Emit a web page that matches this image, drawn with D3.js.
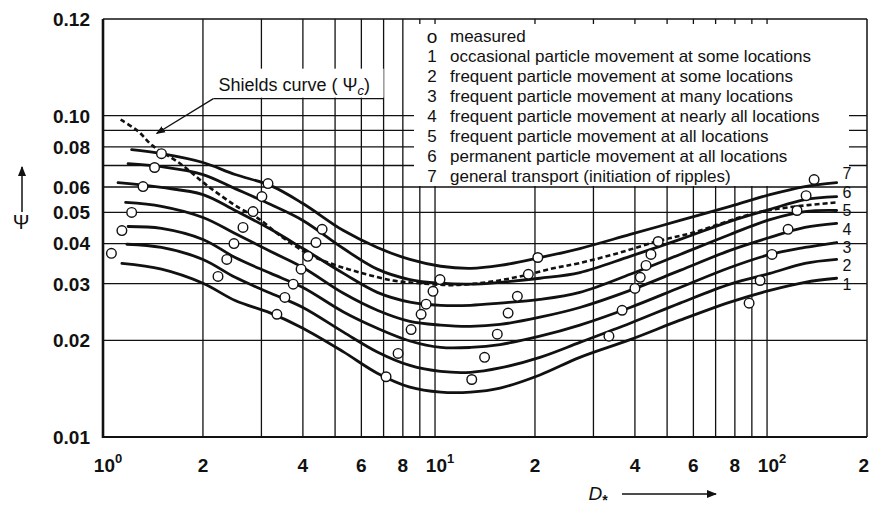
<!DOCTYPE html>
<html><head><meta charset="utf-8">
<script src="https://cdn.jsdelivr.net/npm/d3@7"></script>
<style>body{margin:0;background:#fff}svg{display:block}</style>
</head><body>
<svg id="c" width="870" height="507"></svg>
<script>
// ---------- DATA ----------
const xDomain = [1, 200];
const yDomain = [0.01, 0.2];
const xGrid = [2,3,4,5,6,7,8,9,10,20,30,40,50,60,70,80,90,100];
const yGrid = [0.02,0.03,0.04,0.05,0.06,0.07,0.08,0.09,0.10];
const xTickValues = [1,2,4,6,8,10,20,40,60,80,100,200];
const xTickLabels = ["10^0","2","4","6","8","10^1","2","4","6","8","10^2","2"];
const yTickValues = [0.01,0.02,0.03,0.04,0.05,0.06,0.08,0.10,0.2];
const yTickLabels = ["0.01","0.02","0.03","0.04","0.05","0.06","0.08","0.10","0.12"];

const curve7 = [[1.22,0.0784],[1.5,0.0762],[2,0.0715],[2.5,0.0656],[3.2,0.0606],[4,0.0533],[5.3,0.0439],[6.7,0.0389],[8.4,0.0357],[10.4,0.0340],[12.8,0.0335],[15.7,0.0342],[20.7,0.0362],[27.3,0.0386],[38.7,0.0427],[54.7,0.0472],[77.4,0.0522],[102,0.0568],[130,0.0602],[162,0.0619]];
const curve6 = [[1.19,0.0709],[1.5,0.0694],[2,0.0656],[2.5,0.0593],[3.2,0.0529],[4,0.0472],[5.3,0.0386],[6.7,0.0333],[8.4,0.0309],[10.4,0.0301],[12.8,0.0299],[15.7,0.0303],[20.7,0.0312],[27.3,0.0325],[38.7,0.0365],[54.7,0.0412],[77.4,0.0469],[102,0.0511],[130,0.0548],[162,0.0560]];
const curve5 = [[1.11,0.0619],[1.5,0.0598],[2,0.0568],[2.5,0.0507],[3.2,0.0443],[4,0.0386],[5.3,0.0323],[6.7,0.0282],[8.4,0.0263],[10.4,0.0257],[12.8,0.0257],[15.7,0.0261],[20.7,0.0268],[27.3,0.0282],[38.7,0.0321],[54.7,0.0370],[77.4,0.0427],[102,0.0475],[130,0.0503],[162,0.0507]];
const curve4 = [[1.17,0.0537],[1.5,0.0522],[2,0.0482],[2.5,0.0430],[3.2,0.0378],[4,0.0337],[5.3,0.0280],[6.7,0.0248],[8.4,0.0229],[10.4,0.0223],[12.8,0.0221],[15.7,0.0224],[20.7,0.0236],[27.3,0.0253],[38.7,0.0286],[54.7,0.0330],[77.4,0.0381],[102,0.0418],[130,0.0449],[162,0.0462]];
const curve3 = [[1.19,0.0452],[1.5,0.0446],[2,0.0412],[2.5,0.0362],[3.2,0.0323],[4,0.0292],[5.3,0.0245],[6.7,0.0218],[8.4,0.0199],[10.4,0.0190],[12.8,0.0190],[15.7,0.0194],[20.7,0.0206],[27.3,0.0223],[38.7,0.0253],[54.7,0.0292],[77.4,0.0337],[102,0.0370],[130,0.0389],[162,0.0403]];
const curve2 = [[1.18,0.0398],[1.5,0.0389],[2,0.0357],[2.5,0.0314],[3.2,0.0280],[4,0.0253],[5.3,0.0212],[6.7,0.0184],[8.4,0.0167],[10.4,0.0160],[12.8,0.0159],[15.7,0.0164],[20.7,0.0177],[27.3,0.0197],[38.7,0.0226],[54.7,0.0261],[77.4,0.0299],[102,0.0323],[130,0.0347],[162,0.0357]];
const curve1 = [[1.14,0.0347],[1.5,0.0333],[2,0.0301],[2.5,0.0266],[3.2,0.0243],[4,0.0218],[5.3,0.0184],[6.7,0.0158],[8.4,0.0143],[10.4,0.0138],[12.8,0.0138],[15.7,0.0142],[20.7,0.0156],[27.3,0.0177],[38.7,0.0201],[54.7,0.0231],[77.4,0.0263],[102,0.0286],[130,0.0303],[162,0.0312]];
const shieldsCurve = [[1.13,0.0972],[1.27,0.0898],[1.41,0.0807],[1.71,0.0709],[2.06,0.0606],[2.59,0.0514],[2.91,0.0482],[3.41,0.0424],[4.12,0.0373],[4.73,0.0350],[5.94,0.0325],[7.47,0.0307],[9.01,0.0301],[11.3,0.0297],[14.3,0.0303],[18.0,0.0316],[22.7,0.0335],[27.3,0.0348],[36.1,0.0375],[47.6,0.0409],[58.6,0.0430],[90.7,0.0496],[115,0.0518],[162,0.0537]];
const measured = [
 [1.06,0.0373],[1.14,0.0439],[1.22,0.0500],[1.32,0.0602],[1.43,0.0690],[1.5,0.0762],
 [2.22,0.0316],[2.36,0.0357],[2.48,0.0400],[2.64,0.0449],[2.83,0.0503],[3.01,0.0560],[3.14,0.0615],
 [3.34,0.0241],[3.53,0.0272],[3.74,0.0299],[3.95,0.0333],[4.14,0.0365],[4.38,0.0403],[4.57,0.0443],
 [7.12,0.0154],[7.74,0.0182],[8.47,0.0216],[9.08,0.0241],[9.40,0.0259],[9.86,0.0284],[10.35,0.0309],
 [12.9,0.0151],[14.1,0.0177],[15.4,0.0209],[16.6,0.0243],[17.7,0.0274],[19.1,0.0321],[20.4,0.0362],
 [33.4,0.0206],[36.6,0.0248],[40.0,0.0290],[41.5,0.0314],[43.2,0.0342],[44.7,0.0370],[47.0,0.0406],
 [88.3,0.0261],[95.3,0.0307],[103.5,0.0370],[115.7,0.0443],[123.1,0.0507],[131.1,0.0564],[138.6,0.0633]
];
const curveNames = ["1","2","3","4","5","6","7"];
const legendSymbols = ["o","1","2","3","4","5","6","7"];
const legendTexts = ["measured",
 "occasional particle movement at some locations",
 "frequent particle movement at some locations",
 "frequent particle movement at many locations",
 "frequent particle movement at nearly all locations",
 "frequent particle movement at all locations",
 "permanent particle movement at all locations",
 "general transport (initiation of ripples)"];
const calloutTip = [1.45, 0.088];
const calloutAnchor = [2.15, 0.113];
const calloutEnd = [7.0, 0.113];

// ---------- DRAW ----------
const svg = d3.select('#c');
const font = "'Liberation Sans', Arial, sans-serif";
const ink = '#111';
const x = d3.scaleLog().domain(xDomain).range([103, 867]);
const y = d3.scaleLog().domain(yDomain).range([437, 19]);

svg.append('defs').append('marker').attr('id','ah').attr('viewBox','0 0 10 10')
  .attr('refX',9).attr('refY',5).attr('markerWidth',7).attr('markerHeight',7)
  .attr('orient','auto-start-reverse').append('path').attr('d','M0,1 L10,5 L0,9 z').attr('fill',ink);

// grid
const grid = svg.append('g').attr('stroke', ink).attr('stroke-width', 1.3);
grid.selectAll('.gx').data(xGrid).join('line')
  .attr('x1', d=>x(d)).attr('x2', d=>x(d)).attr('y1', y(yDomain[0])).attr('y2', y(yDomain[1]));
grid.selectAll('.gy').data(yGrid).join('line')
  .attr('y1', d=>y(d)).attr('y2', d=>y(d)).attr('x1', x(xDomain[0])).attr('x2', x(xDomain[1]));

// callout box
const ax = x(calloutAnchor[0]), ay = y(calloutAnchor[1]), ex = x(calloutEnd[0]);
svg.append('rect').attr('x', ax).attr('y', ay-30).attr('width', ex-ax).attr('height', 29).attr('fill','#fff');

// legend box
svg.append('rect').attr('x',414).attr('y',24).attr('width',435).attr('height',162).attr('fill','#fff');
const lg = svg.append('g').attr('font-family', font).attr('font-size', 17).attr('fill', ink);
legendTexts.forEach((t,i)=>{
  const yy = 36 + i*20;
  lg.append('text').attr('x',432).attr('y',yy).attr('dy','0.35em').attr('text-anchor','middle')
    .attr('font-size', i===0?19:17).text(legendSymbols[i]);
  lg.append('text').attr('x',450).attr('y',yy).attr('dy','0.35em').text(t);
});

// curves
const line = d3.line().x(d=>x(d[0])).y(d=>y(d[1])).curve(d3.curveCatmullRom.alpha(0.5));
const curves = [curve1,curve2,curve3,curve4,curve5,curve6,curve7];
svg.append('g').selectAll('path').data(curves).join('path')
  .attr('d', line).attr('fill','none').attr('stroke', ink).attr('stroke-width', 2.8)
  .attr('stroke-linecap','round');
svg.append('path').datum(shieldsCurve).attr('d', line).attr('fill','none')
  .attr('stroke', ink).attr('stroke-width', 2.6).attr('stroke-dasharray','5,3');

// curve labels
const nudge = [6,6,5,5.5,0,-4,-9];
svg.append('g').attr('font-family', font).attr('font-size', 16).attr('fill', ink)
  .selectAll('text').data(curves).join('text')
  .attr('x', d=>x(d[d.length-1][0]) + 6)
  .attr('y', (d,i)=>y(d[d.length-1][1]) + nudge[i])
  .attr('dy','0.36em').text((d,i)=>curveNames[i]);

// measured points
svg.append('g').selectAll('circle').data(measured).join('circle')
  .attr('cx', d=>x(d[0])).attr('cy', d=>y(d[1])).attr('r', 4.8)
  .attr('fill','#fff').attr('stroke', ink).attr('stroke-width', 1.4);

// callout text + arrow
svg.append('line').attr('x1', ax).attr('y1', ay).attr('x2', ex).attr('y2', ay).attr('stroke', ink).attr('stroke-width', 1.3);
svg.append('line').attr('x1', ax).attr('y1', ay).attr('x2', x(calloutTip[0])).attr('y2', y(calloutTip[1]))
  .attr('stroke', ink).attr('stroke-width', 1.3).attr('marker-end','url(#ah)');
const ct = svg.append('text').attr('x', ax+5).attr('y', ay-8).attr('font-family', font).attr('font-size', 18).attr('fill', ink);
ct.append('tspan').text('Shields curve ( \u03A8');
ct.append('tspan').attr('font-style','italic').attr('font-size',13).attr('dy',4).text('c');
ct.append('tspan').attr('dy',-4).text(')');

// frame
const fr = svg.append('g').attr('stroke', ink);
fr.append('line').attr('x1',x(1)).attr('x2',x(1)).attr('y1',y(0.01)+1).attr('y2',y(0.2)).attr('stroke-width',2.6);
fr.append('line').attr('x1',x(1)).attr('x2',x(200)).attr('y1',y(0.01)).attr('y2',y(0.01)).attr('stroke-width',2);
fr.append('line').attr('x1',x(1)).attr('x2',x(200)).attr('y1',y(0.2)).attr('y2',y(0.2)).attr('stroke-width',1.3);
fr.append('line').attr('x1',x(200)).attr('x2',x(200)).attr('y1',y(0.01)).attr('y2',y(0.2)).attr('stroke-width',1.5);

// y tick labels
svg.append('g').attr('font-family', font).attr('font-size', 19).attr('font-weight','bold').attr('fill', ink)
  .selectAll('text').data(yTickValues).join('text')
  .attr('x', 90).attr('y', d=>y(d)).attr('dy','0.36em').attr('text-anchor','end')
  .text((d,i)=>yTickLabels[i]);

// x tick labels
const xl = svg.append('g').attr('font-family', font).attr('font-size', 19).attr('font-weight','bold').attr('fill', ink);
xTickValues.forEach((v,i)=>{
  const lab = xTickLabels[i];
  const last = i === xTickValues.length-1;
  if (lab.includes('^')) {
    const [b,p] = lab.split('^');
    const t = xl.append('text').attr('x', x(v)+5).attr('y', 472).attr('text-anchor','middle');
    t.append('tspan').text(b);
    t.append('tspan').attr('dy',-9).attr('font-size',13).text(p);
  } else {
    xl.append('text').attr('x', last ? x(v)+2 : x(v)).attr('y', 472)
      .attr('text-anchor', last ? 'end' : 'middle').text(lab);
  }
});

// axis titles
const xt = svg.append('text').attr('x', 598).attr('y', 500).attr('font-family', font).attr('font-size', 19).attr('fill', ink).attr('text-anchor','middle');
xt.append('tspan').attr('font-style','italic').text('D');
xt.append('tspan').attr('dy',5).attr('font-size',14).attr('font-weight','bold').text('*');
svg.append('line').attr('x1',622).attr('x2',716).attr('y1',494).attr('y2',494).attr('stroke',ink).attr('stroke-width',1.5).attr('marker-end','url(#ah)');

svg.append('text').attr('x', 21).attr('y', 222).attr('dy','0.35em').attr('text-anchor','middle')
  .attr('font-family', font).attr('font-size', 20).attr('fill', ink).text('\u03A8');
svg.append('line').attr('x1',22).attr('x2',22).attr('y1',212).attr('y2',167).attr('stroke',ink).attr('stroke-width',1.5).attr('marker-end','url(#ah)');
</script>
</body></html>
